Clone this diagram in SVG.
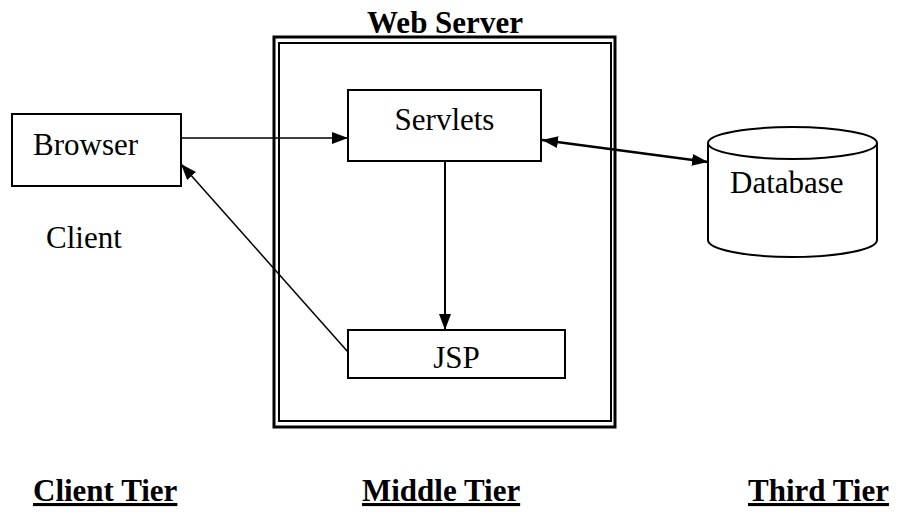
<svg xmlns="http://www.w3.org/2000/svg" width="903" height="519" viewBox="0 0 903 519">
  <style>
    text { font-family: "Liberation Serif", "Times New Roman", serif; fill: #000; }
    .lbl { font-size: 31px; }
    .bold { font-size: 31px; font-weight: bold; }
    .tier { font-size: 31px; font-weight: bold; text-decoration: underline; }
    .box { fill: #fff; stroke: #000; stroke-width: 2; }
    .edge { fill: none; stroke: #000; }
  </style>
  <defs>
    <marker id="arrow" viewBox="0 0 16 12" refX="16" refY="6" markerWidth="16" markerHeight="12" markerUnits="userSpaceOnUse" orient="auto-start-reverse">
      <path d="M0,0 L16,6 L0,12 Z" fill="#000"/>
    </marker>
  </defs>
  <rect width="903" height="519" fill="#fff"/>

  <!-- web server container with double border -->
  <g id="web-server">
    <rect x="274" y="37" width="341" height="390" fill="none" stroke="#000" stroke-width="3"/>
    <rect x="279" y="43" width="332" height="378" fill="none" stroke="#000" stroke-width="2"/>
    <text class="bold" x="445" y="33" text-anchor="middle">Web Server</text>
  </g>

  <g id="browser">
    <rect class="box" x="12" y="114" width="169" height="72"/>
    <text class="lbl" x="33" y="155">Browser</text>
  </g>

  <g id="client-label">
    <text class="lbl" x="46" y="248">Client</text>
  </g>

  <g id="servlets">
    <rect class="box" x="348" y="90" width="193" height="71"/>
    <text class="lbl" x="444.5" y="130" text-anchor="middle">Servlets</text>
  </g>

  <g id="jsp">
    <rect class="box" x="348" y="330" width="217" height="48"/>
    <text class="lbl" x="456.5" y="368" text-anchor="middle">JSP</text>
  </g>

  <g id="database">
    <path d="M708,143 L708,240 A84.5,17 0 0 0 877,240 L877,143" fill="#fff" stroke="#000" stroke-width="2"/>
    <ellipse cx="792.5" cy="143" rx="84.5" ry="16" fill="#fff" stroke="#000" stroke-width="2"/>
    <text class="lbl" x="730" y="193">Database</text>
  </g>

  <g id="connectors">
    <line class="edge" x1="181" y1="138" x2="348" y2="138" stroke-width="1.5" marker-end="url(#arrow)"/>
    <line class="edge" x1="542" y1="140" x2="708" y2="162" stroke-width="2.5" marker-start="url(#arrow)" marker-end="url(#arrow)"/>
    <line class="edge" x1="445" y1="161" x2="445" y2="330" stroke-width="2" marker-end="url(#arrow)"/>
    <line class="edge" x1="348" y1="352" x2="181" y2="164" stroke-width="1.5" marker-end="url(#arrow)"/>
  </g>

  <g id="tiers">
    <text class="tier" x="33" y="501">Client Tier</text>
    <text class="tier" x="362" y="501">Middle Tier</text>
    <text class="tier" x="748" y="501">Third Tier</text>
  </g>
</svg>
